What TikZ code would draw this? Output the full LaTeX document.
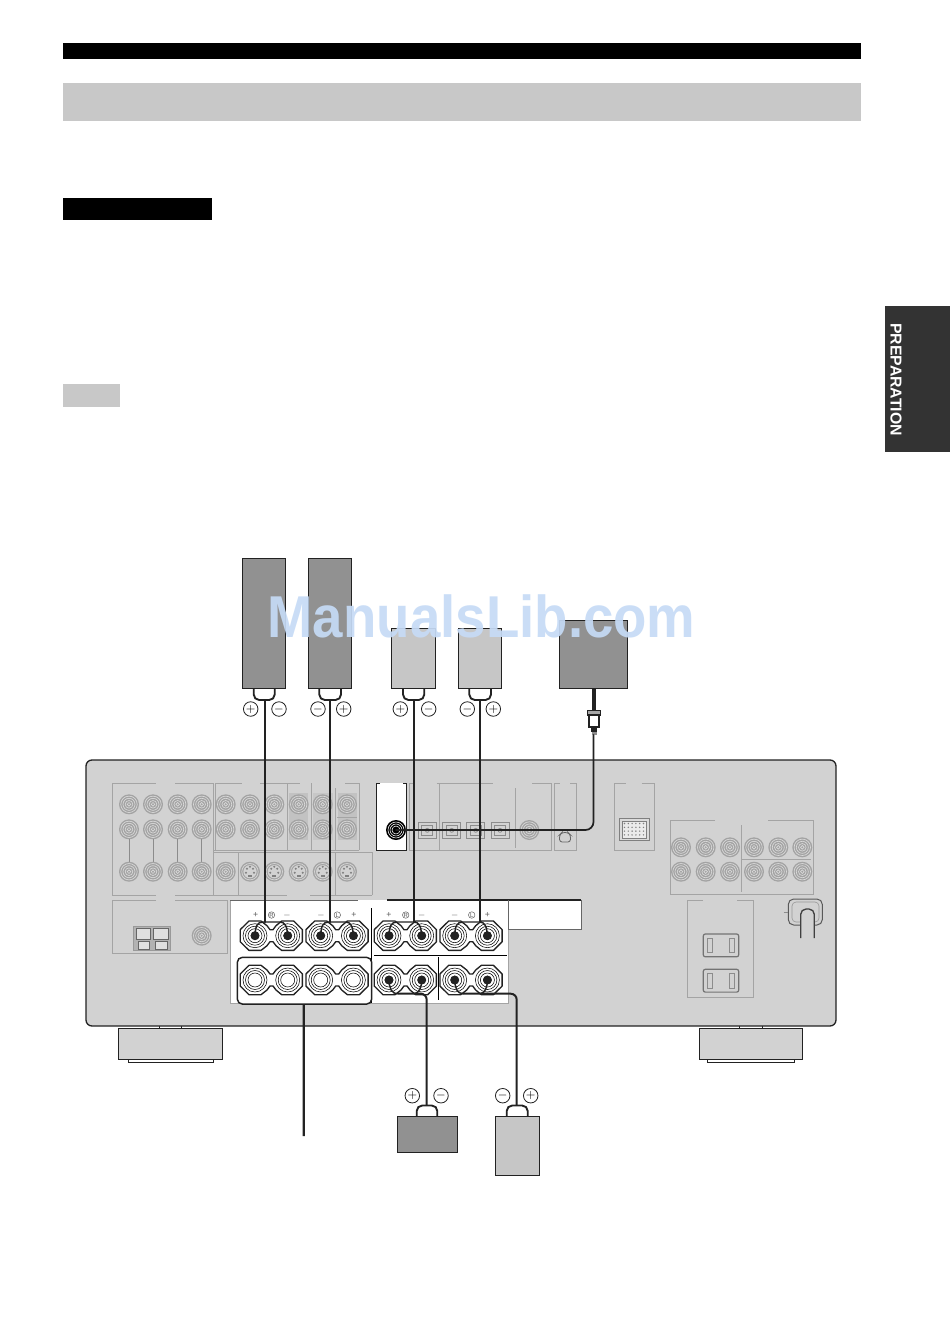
\documentclass[tikz,border=0pt]{standalone}
\usepackage{fontspec}
\setmainfont{Liberation Sans}
\definecolor{ink}{HTML}{222222}
\definecolor{panel}{HTML}{D2D2D2}
\definecolor{pline}{HTML}{A4A4A4}
\definecolor{spkdark}{HTML}{919191}
\definecolor{spklight}{HTML}{C6C6C6}
\definecolor{barlight}{HTML}{C8C8C8}
\definecolor{tabdark}{HTML}{333333}
\definecolor{mark}{HTML}{C6DBF6}
\tikzset{
  spkbox/.style={draw=ink,line width=.8pt,rectangle,inner sep=0pt,outer sep=0pt},
  pol/.style={circle,draw=ink,line width=.6pt,fill=white,minimum size=14.5*.75pt,inner sep=0pt,font=\fontsize{9}{9}\selectfont},
  cable/.style={draw=ink,line width=1.5pt,line cap=round,line join=round},
  lead/.style={draw=ink,line width=1.1pt,line cap=round},
  clampline/.style={draw=ink,line width=1.4pt,rounded corners=5.5*.75pt},
  pline1/.style={draw=pline,line width=.7pt},
  wire/.style={draw=black,line width=.65pt},
  tlabel/.style={text=black!65,inner sep=0pt,font=\fontsize{6.5}{6.5}\selectfont},
}
\newcommand{\rcajack}[2]{%
  \fill[black!36] (#1,#2) circle (10);
  \foreach \r in {8.2,6,3.8,1.8}{\draw[draw=panel!85,line width=.5pt] (#1,#2) circle (\r);}
}
\newcommand{\svideo}[2]{%
  \rcajack{#1}{#2}
  \fill[panel] (#1,#2) circle (6.5);
  \foreach \a/\b in {-3/-3,3/-3,-4/1,4/1,0/-5}{\fill[black!50] (#1+\a,#2+\b) circle (1.1);}
  \fill[black!50] (#1-2,#2+3) rectangle (#1+2,#2+5);
}
\newcommand{\termpair}[3]{%
  \begin{scope}[shift={(#1,#2)}]
  \draw[fill=white,draw=ink,line width=1pt,line join=round]
    (-6,-14.7)--(6,-14.7)--(12,-10)--(15,-6)--(18,-6)--(21,-10)--(26.7,-14.7)--(38.7,-14.7)
    --(47.4,-6.1)--(47.4,6.1)--(38.7,14.7)--(26.7,14.7)--(21,10)--(18,6)--(15,6)--(12,10)
    --(6,14.7)--(-6,14.7)--(-14.7,6.1)--(-14.7,-6.1)--cycle;
  \foreach \c in {0,32.7}{
    \foreach \r in {12,9.5,7}{\draw[black,line width=.4pt] (\c,0) circle (\r);}
    \fill[#3] (\c,0) circle (4.4);
  }
  \end{scope}
}
\begin{document}
\begin{tikzpicture}[x=.75pt,y=-.75pt]
\useasboundingbox (0,0) rectangle (950,1340);
\fill[white] (0,0) rectangle (950,1340);

% page furniture
\fill[black] (63,43) rectangle (861,59);
\fill[barlight] (63,83) rectangle (861,121);
\fill[black] (63,198) rectangle (212,220);
\fill[barlight] (63,384) rectangle (120,407);
\fill[tabdark] (885,306) rectangle (950,452);
\node[rotate=-90,text=white,inner sep=0pt,font=\bfseries\fontsize{11.85}{12}\selectfont] (tabtext) at (896,379.5) {PREPARATION};

% speakers, subwoofer
\node[spkbox,fill=spkdark,minimum width=43*.75pt,minimum height=130*.75pt] (spkFR) at (264,623.5) {};
\node[spkbox,fill=spkdark,minimum width=43*.75pt,minimum height=130*.75pt] (spkFL) at (330,623.5) {};
\node[spkbox,fill=spklight,minimum width=44*.75pt,minimum height=60*.75pt] (spkSR) at (413.5,658.5) {};
\node[spkbox,fill=spklight,minimum width=43*.75pt,minimum height=60*.75pt] (spkSL) at (480,658.5) {};
\node[spkbox,fill=spkdark,minimum width=68.5*.75pt,minimum height=68.5*.75pt] (sub) at (593.5,654.5) {};
\node[spkbox,fill=spkdark,minimum width=60.5*.75pt,minimum height=36*.75pt] (spkC) at (427.5,1134.3) {};
\node[spkbox,fill=spklight,minimum width=44*.75pt,minimum height=59*.75pt] (spkSB) at (517.3,1145.8) {};

% polarity marks
\node[pol] (p1a) at (250.7,709) {$+$};
\node[pol] (p1b) at (279,709) {$-$};
\node[pol] (p2a) at (318,709) {$-$};
\node[pol] (p2b) at (343.7,709) {$+$};
\node[pol] (p3a) at (400.3,709) {$+$};
\node[pol] (p3b) at (428.7,709) {$-$};
\node[pol] (p4a) at (467.3,709) {$-$};
\node[pol] (p4b) at (493.3,709) {$+$};
\node[pol] (p5a) at (412.3,1095.7) {$+$};
\node[pol] (p5b) at (441,1095.7) {$-$};
\node[pol] (p6a) at (502.7,1095.7) {$-$};
\node[pol] (p6b) at (530.7,1095.7) {$+$};

% receiver and feet
\foreach \xa/\xb/\xc/\xd/\xe/\xf in {118.3/222.3/128/213/159/181.7,699.3/802.7/707/794.7/739/762.7}{
  \draw[ink,line width=.7pt,fill=panel] (\xa,1028)--(\xb,1028)--(\xb,1059.5)--(\xa,1059.5)--cycle;
  \draw[ink,line width=.7pt] (\xc,1059.5)--(\xc,1062)--(\xd,1062)--(\xd,1059.5);
  \draw[ink,line width=.5pt] (\xe,1025)--(\xe,1028) (\xf,1025)--(\xf,1028);
}
\node[draw=ink,line width=1pt,fill=panel,rounded corners=6*.75pt,minimum width=750*.75pt,minimum height=266*.75pt,inner sep=0pt] (recv) at (461,893) {};

% left input block
\fill[black!24] (289,793) rectangle (308,839.5);
\fill[black!22] (313,793) rectangle (332.5,839.5);
\fill[black!24] (337.5,793) rectangle (357,839.5);
\draw[pline1]
  (112,783)--(156,783) (175,783)--(213,783) (215,783)--(242,783) (260,783)--(300,783) (345,783)--(359,783)
  (112,783)--(112,895)
  (112,895)--(156,895) (175,895)--(287,895) (310,895)--(372,895)
  (359,783)--(359,850) (213,850)--(359,850)
  (213,783)--(213,895) (215,783)--(215,850)
  (213,852)--(372,852) (372,852)--(372,895)
  (238,852)--(238,895) (287,783)--(287,850) (311,783)--(311,850) (335,788)--(335,850) (335,852)--(335,895)
  (337,817.7)--(357,817.7);
\foreach \x in {129,153,177.7,201.7,225.7,250,274.3,298.7,322.7,347}{
  \rcajack{\x}{804.3}
  \rcajack{\x}{829.3}
}
\foreach \x in {129,153,177.7,201.7}{\draw[black!45,line width=.55pt] (\x,839)--(\x,862);}
\foreach \x in {129,153,177.7,201.7,225.7}{\rcajack{\x}{871.7}}
\foreach \x in {250,274.3,298.7,322.7,347}{\svideo{\x}{871.7}}

% network / antenna panel
\draw[pline1] (156,900)--(112,900)--(112,953)--(227.5,953)--(227.5,900)--(175,900);
\draw[black!40,line width=.5pt,fill=black!30] (133,926) rectangle (170.7,950);
\draw[black!60,line width=.4pt,fill=black!12] (136,928) rectangle (150,939) (153,928) rectangle (168,939) (138,941) rectangle (149,949) (155,941) rectangle (167,949);
\rcajack{201.7}{935.7}

% digital inputs
\draw[pline1]
  (409.3,783)--(415,783) (436.7,783)--(493.3,783) (532,783)--(551.7,783) (554,783)--(560,783) (570,783)--(576,783)
  (409.3,783)--(409.3,850)--(551.7,850)--(551.7,783)
  (439.3,783)--(439.3,850) (515.7,788)--(515.7,848)
  (554,783)--(554,850)--(576,850)--(576,783)
  (614.3,783)--(626,783) (641.5,783)--(654.3,783)
  (614.3,783)--(614.3,850)--(654.3,850)--(654.3,783);
\foreach \x in {427.3,451.7,475.7,500}{
  \draw[black!45,line width=.55pt] (\x-9,822.3) rectangle (\x+9,838.3);
  \draw[black!45,line width=.55pt] (\x-5.5,825) rectangle (\x+5.5,835.5);
  \draw[black!45,line width=.55pt] (\x,830.3) circle (2);
}
\rcajack{529.3}{830}
\draw[black!60,line width=.6pt,rounded corners=2pt] (559.5,842)--(559.5,835)--(562,832.5)--(568,832.5)--(570.5,835)--(570.5,842)--cycle;
\draw[black!50,line width=.7pt,fill=black!14] (619,818.5) rectangle (649,840.5);
\draw[black!50,line width=.5pt,fill=black!8] (622,821) rectangle (646,838);
\foreach \i in {0,1,2,3,4,5}{\foreach \j in {0,1,2,3}{\fill[black!50] (624.5+\i*3.8,823.5+\j*3.8) circle (.8);}}

% right output block
\draw[pline1] (715,820)--(670.7,820)--(670.7,894.3)--(813.3,894.3)--(813.3,820)--(768.3,820)
  (741.7,825)--(741.7,891.7) (741.7,859.3)--(811,859.3);
\foreach \x in {681,705.7,730,754,778.3,802.3}{\rcajack{\x}{847.3}\rcajack{\x}{871.7}}

% power outlets and cord
\draw[pline1] (703,900)--(687.7,900)--(687.7,997.7)--(753.3,997.7)--(753.3,900)--(737.3,900);
\foreach \y in {934,969.3}{
  \draw[black!55,line width=.9pt,rounded corners=1.5pt] (703.3,\y) rectangle (738.7,\y+22.8);
  \draw[black!45,line width=.55pt] (707.3,\y+4.3) rectangle (712.7,\y+18.7) (729.3,\y+4.3) rectangle (734.7,\y+18.7);
}
\draw[black!65,line width=.75pt,rounded corners=4pt] (788.3,899) rectangle (822.3,925);
\draw[black!40,line width=.45pt,rounded corners=3pt] (792,902) rectangle (819,922);
\draw[black!45,line width=.5pt] (783.5,912.5)--(788,912.5);
\fill[panel] (800.7,909) rectangle (814.3,938);
\draw[black!75,line width=1pt,rounded corners=4pt] (800.7,938)--(800.7,909)--(814.3,909)--(814.3,938);

% white speaker terminal panel
\node[draw=none,fill=white,minimum width=278*.75pt,minimum height=103.3*.75pt,inner sep=0pt] (spkpanel) at (369.3,951.7) {};
\fill[white] (508,900) rectangle (581,929);
\draw[pline1] (230.3,900)--(230.3,1003.3)--(508,1003.3)--(508,929);
\draw[black!60,line width=.6pt] (230.3,900)--(358,900);
\draw[ink,line width=.8pt] (387,900)--(581,900);
\draw[black!60,line width=.7pt] (581,900)--(581,929)--(508,929)--(508,900);
\draw[wire] (371.7,908)--(371.7,1003) (374,955.7)--(507,955.7) (438.3,957)--(438.3,1000);
\foreach \x/\t in {255.7/+,287/$-$,321/$-$,354/+,389/+,421.7/$-$,454.7/$-$,487.3/+}{
  \path (\x,915) node[tlabel] {\t};
}
\foreach \x/\t in {271.5/R,337.3/L,405.7/R,471.7/L}{
  \path (\x,915) node[tlabel,circle,draw=black!65,line width=.35pt,minimum size=6.5*.75pt,inner sep=0pt,font=\fontsize{4.5}{4.5}\selectfont] {\t};
}
\termpair{255}{935.7}{ink}
\termpair{320.7}{935.7}{ink}
\termpair{389}{935.7}{ink}
\termpair{454.7}{935.7}{ink}
\termpair{389}{980}{ink}
\termpair{454.7}{980}{ink}
\node[draw=ink,line width=1.1pt,fill=white,rounded corners=5*.75pt,minimum width=134.4*.75pt,minimum height=46.7*.75pt,inner sep=0pt] (group) at (304.5,980.7) {};
\termpair{255}{980}{white}
\termpair{320.7}{980}{white}

% digital jack box
\node[draw=none,fill=white,minimum width=30*.75pt,minimum height=66.7*.75pt,inner sep=0pt] (subbox) at (391.7,816.7) {};
\draw[ink,line width=.75pt] (380,783.3)--(376.7,783.3)--(376.7,850)--(406.7,850)--(406.7,783.3)--(403,783.3);
\fill[black] (396,830) circle (10);
\foreach \r in {8,6,4}{\draw[white,line width=.4pt] (396,830) circle (\r);}
\fill[black] (396,830) circle (2.5);

% connector anchors
\coordinate (t1a) at (255,935.7);\coordinate (t1b) at (287.7,935.7);
\coordinate (t2a) at (320.7,935.7);\coordinate (t2b) at (353.4,935.7);
\coordinate (t3a) at (389,935.7);\coordinate (t3b) at (421.7,935.7);
\coordinate (t4a) at (454.7,935.7);\coordinate (t4b) at (487.4,935.7);
\coordinate (t5a) at (389,980);\coordinate (t5b) at (421.7,980);
\coordinate (t6a) at (454.7,980);\coordinate (t6b) at (487.4,980);

% speaker clamps
\foreach \n/\a/\b in {spkFR/253.7/274.7,spkFL/319.3/341,spkSR/403/424.3,spkSL/469.3/491}{
  \draw[clampline] (\a,688.5)--(\a,700)--(\b,700)--(\b,688.5);
}
\draw[clampline] (416.7,1116)--(416.7,1105.5)--(437.3,1105.5)--(437.3,1116);
\draw[clampline] (506.7,1116)--(506.7,1105.5)--(527.7,1105.5)--(527.7,1116);

% cables to the upper terminals
\draw[cable] (264.7,700)--(264.7,922);
\draw[cable] (330.2,700)--(330.2,922);
\draw[cable] (414.2,700)--(414.2,922);
\draw[cable] (480.2,700)--(480.2,922);
\foreach \p/\q/\x in {t1a/t1b/255,t2a/t2b/320.7,t3a/t3b/389,t4a/t4b/454.7}{
  \draw[lead] (\p) .. controls (\x+.5,926) and (\x+2,922) .. (\x+8,922) -- (\x+25,922) .. controls (\x+30,922) and (\x+32,926) .. (\q);
}
\foreach \p in {t1a,t1b,t2a,t2b,t3a,t3b,t4a,t4b,t5a,t5b,t6a,t6b}{\fill[ink] (\p) circle (4.4);}

% cables to the lower terminals
\draw[lead] (t5a) .. controls (389.5,988) and (391,993.7) .. (398,993.7);
\draw[lead] (t5b) .. controls (421.7,987) and (419,993.7) .. (414,993.7);
\draw[cable,rounded corners=6*.75pt] (398,993.7)--(426.7,993.7)--(426.7,1105);
\draw[lead] (t6a) .. controls (455.2,988) and (457,993.7) .. (463,993.7);
\draw[lead] (t6b) .. controls (487.4,987) and (485,993.7) .. (480,993.7);
\draw[cable,rounded corners=6*.75pt] (463,993.7)--(516.7,993.7)--(516.7,1105);

% group leader line
\draw[draw=ink,line width=1.6pt] (group.south) ++(-.8,0) -- (303.7,1136);

% subwoofer cable
\draw[draw=ink,line width=2.6pt] (sub.south) ++(.5,0) -- (594,710);
\draw[ink,line width=.7pt,fill=black!35] (587.7,710.5) rectangle (600,715);
\draw[ink,line width=.9pt,fill=white] (589,715) rectangle (599,727);
\fill[ink] (590.7,727) rectangle (597.3,731.5);
\fill[black!45] (591.5,731.5) rectangle (596.5,735);
\draw[cable,line width=1.3pt,rounded corners=8*.75pt] (593.5,735)--(593.5,830)--(396,830);

% watermark
\node[text=mark,opacity=.92,inner sep=0pt,font=\fontsize{44.3}{50}\selectfont\bfseries,xscale=.925] (watermark) at (481.5,616.5) {ManualsLib.com};
\end{tikzpicture}
\end{document}
